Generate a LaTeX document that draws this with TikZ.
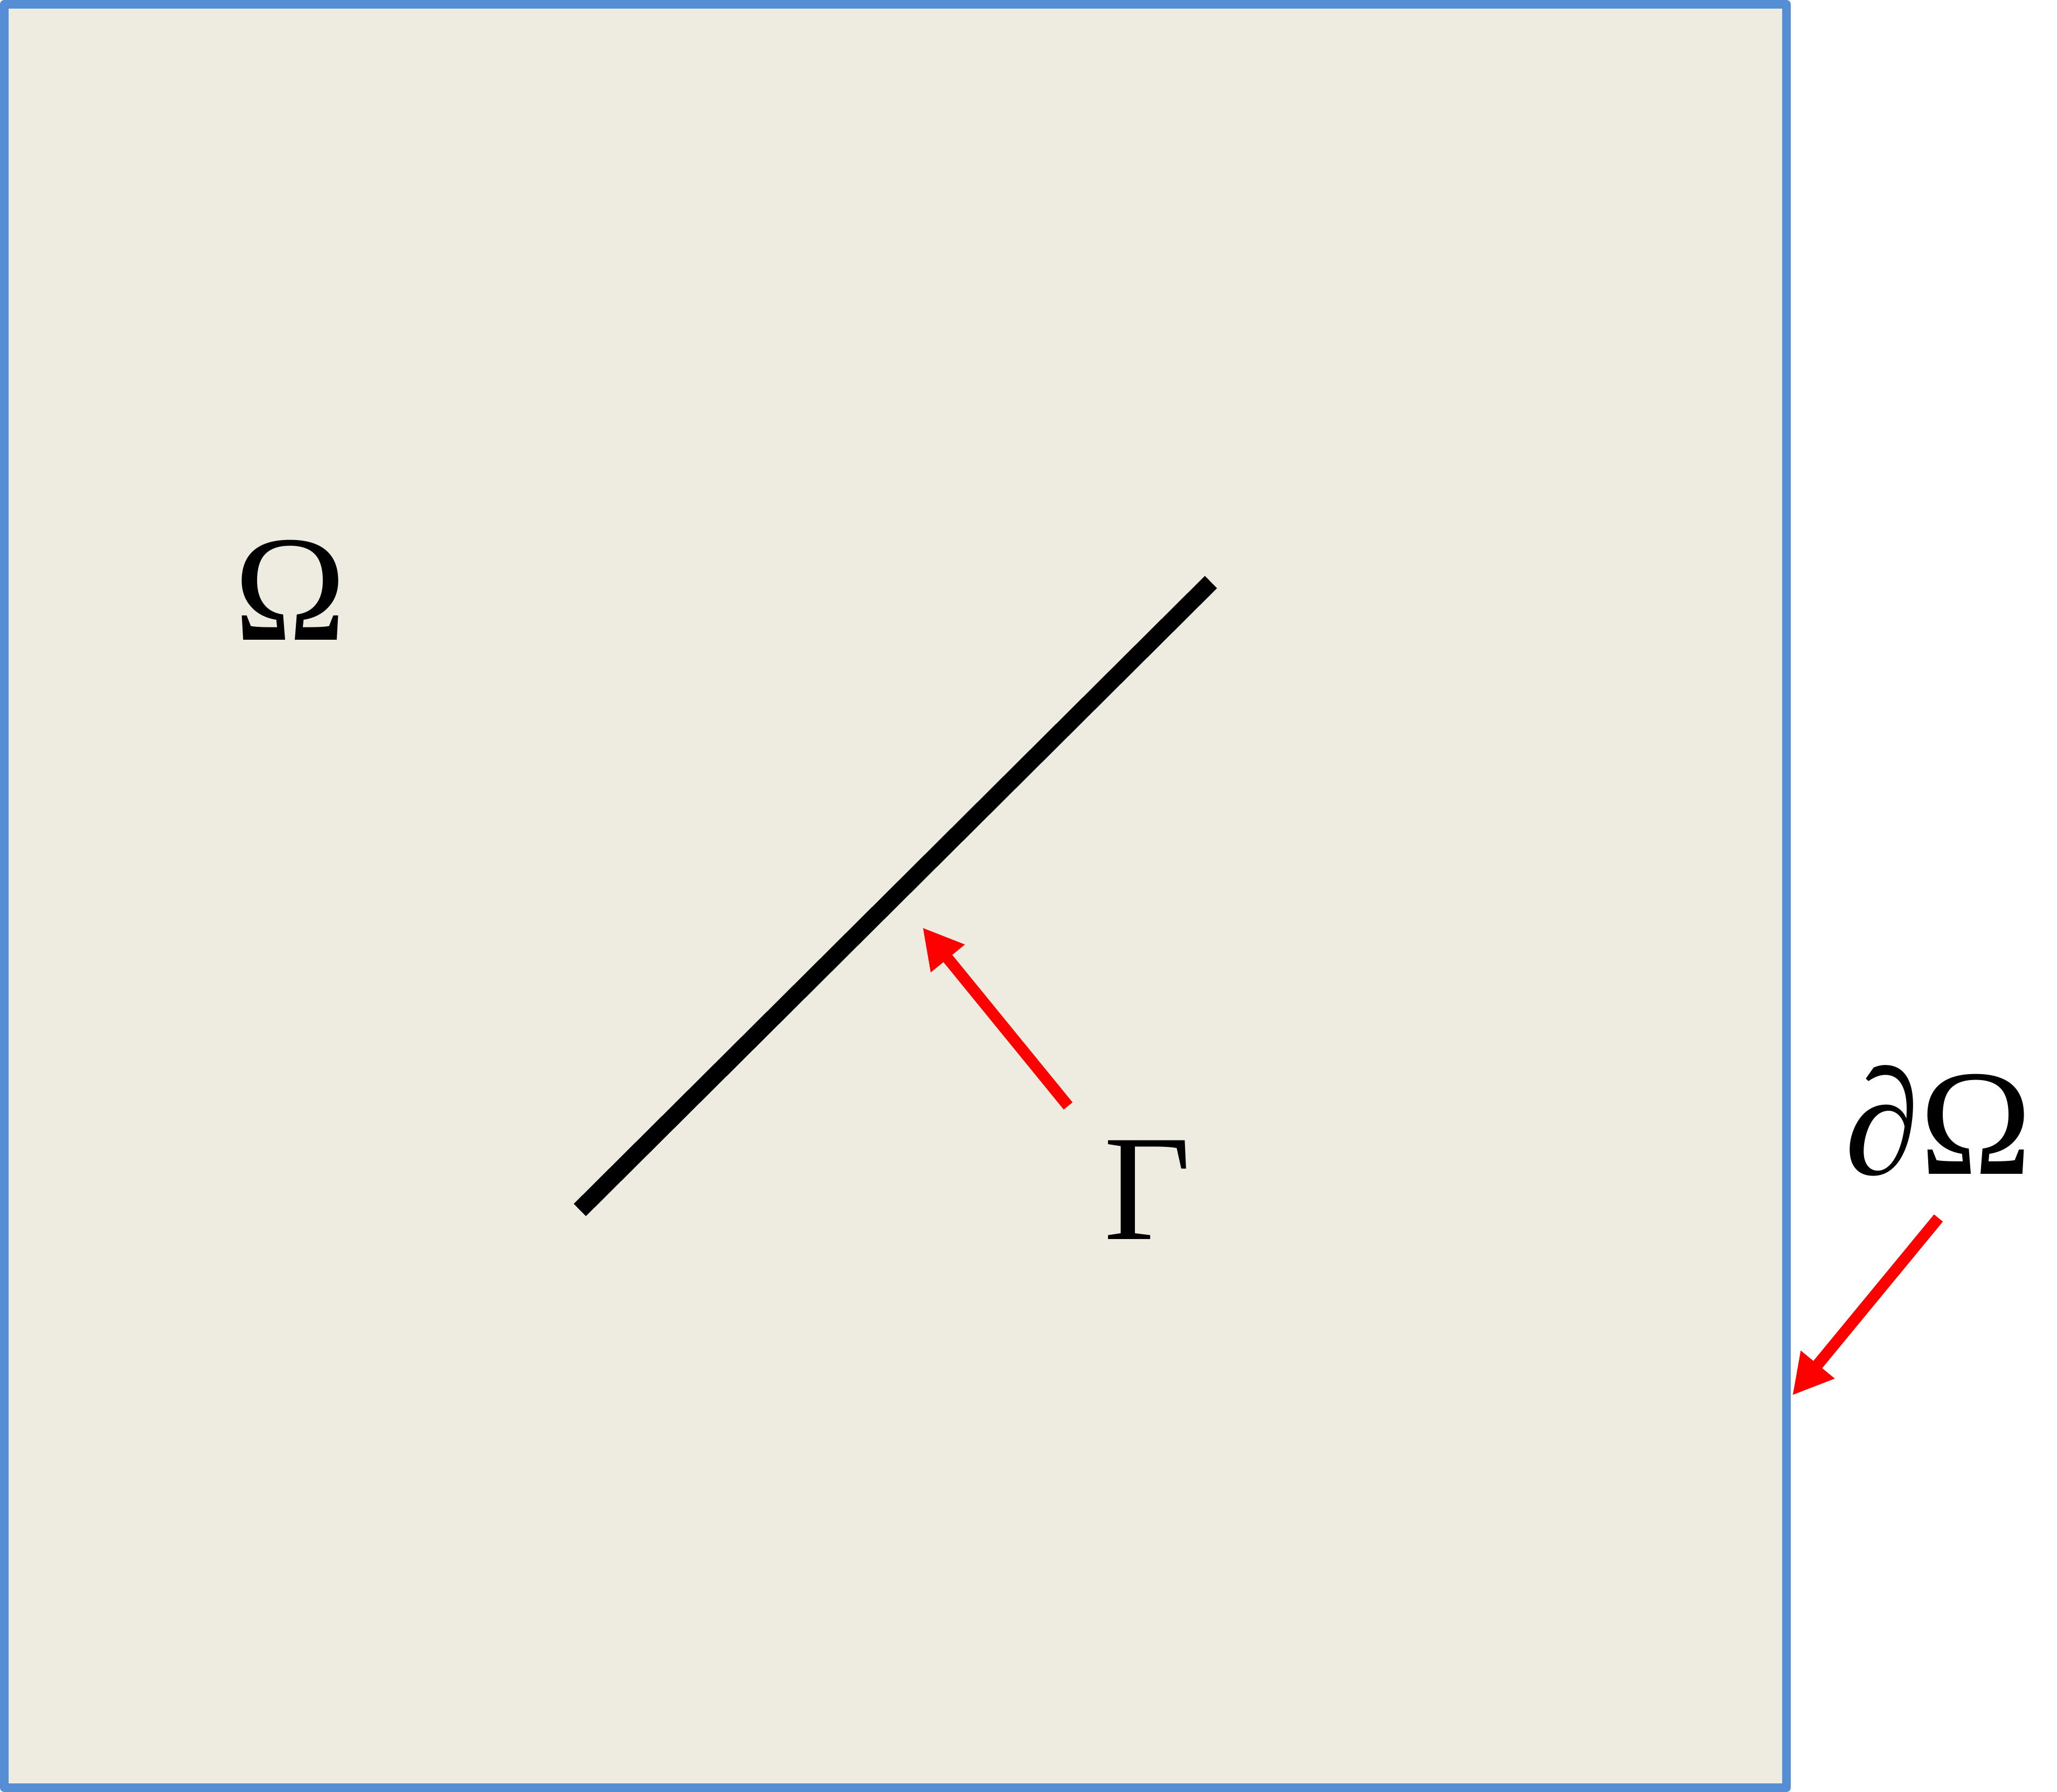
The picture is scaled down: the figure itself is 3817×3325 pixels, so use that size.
\documentclass[tikz,border=0pt]{standalone}
\usepackage{fontspec}
\setmainfont{Liberation Serif}
\usetikzlibrary{arrows.meta}
\definecolor{domfill}{HTML}{EEECE1}
\definecolor{domedge}{HTML}{558ED5}
\begin{document}
\begin{tikzpicture}[x=0.1pt,y=-0.1pt,
    lbl/.style={anchor=base,inner sep=0pt,font=\fontsize{28}{31}\selectfont},
    ptr/.style={red,line width=2.1pt,-{Triangle[length=7.4pt,width=7.6pt]}}]
  \useasboundingbox (0,0) rectangle (3817,3325);
  \draw[domedge,fill=domfill,line width=1.6pt,line join=round] (8,8) rectangle (3315,3317);
  \coordinate (crackA) at (1076,2245);
  \coordinate (crackB) at (2247,1080);
  \draw[line width=3.2pt] (crackA) -- (crackB);
  \node (omega) at (539,1187) [lbl] {Ω};
  \node (gamma) at (2129,2299) [lbl] {Γ};
  \node (bdry) at (3597,2178) [lbl] {\textit{∂}Ω};
  \coordinate (gtail) at (1982,2052);
  \coordinate (gtip) at (1712,1721);
  \coordinate (btail) at (3597,2260);
  \coordinate (btip) at (3326,2589);
  \draw[ptr] (gtail) -- (gtip);
  \draw[ptr] (btail) -- (btip);
\end{tikzpicture}
\end{document}
